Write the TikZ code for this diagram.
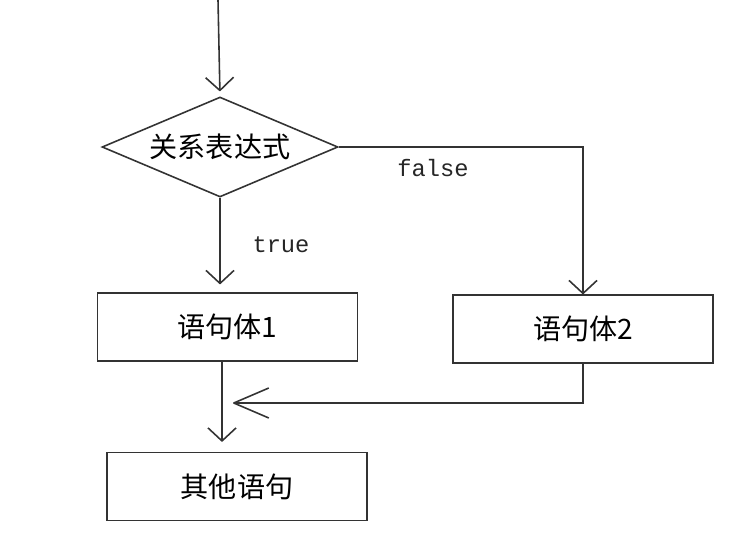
\documentclass[tikz,border=0pt]{standalone}
\usepackage{fontspec}
\newfontfamily\cjk{Noto Sans CJK SC}
\setmonofont{Liberation Mono}
\usetikzlibrary{shapes.geometric,arrows.meta}

\tikzset{
	box/.style={draw=black!80, line width=.9pt, minimum width=5.2cm, minimum height=1.36cm,
		inner sep=0pt, font=\cjk\fontsize{16pt}{18pt}\selectfont},
	cond/.style={diamond, draw=black!80, line width=.9pt, aspect=2.36, minimum width=4.72cm,
		minimum height=2cm, inner sep=0pt, font=\cjk\fontsize{16pt}{18pt}\selectfont},
	flow/.style={draw=black!80, line width=.9pt,
		-{Straight Barb[length=.26cm, width=.56cm, line join=round]}},
	lab/.style={font=\ttfamily\fontsize{13.5pt}{15pt}\selectfont, text=black!85}
}

\begin{document}
\begin{tikzpicture}[x=.02cm, y=-.02cm]
		\useasboundingbox (0,0) rectangle (750,545);

		\coordinate (start) at (218,0);
		\node[cond] (test) at (220,147) {关系表达式};
		\node[box] (body1) at (227.5,327) {语句体1};
		\node[box] (body2) at (583,329) {语句体2};
		\node[box] (rest) at (237,486.5) {其他语句};
		\coordinate (merge) at (233,403);

		% Verzweigung
		\draw[flow, shorten >=.1cm] (start) -- (test.north);
		\draw[flow, shorten >=.16cm] (test.south) -- (test.south |- body1.north);
		\draw[flow] (test.east) -| (body2.north);

		% Zusammenführung
		\draw[flow, -{Straight Barb[length=.7cm, width=.6cm, line join=round]}] (body2.south) |- (merge);
		\draw[flow, shorten >=.2cm] ([xshift=-.11cm]body1.south) -- ([xshift=-.11cm]body1.south |- rest.north);

		\node[lab] (truelab) at (281,245) {true};
		\node[lab] (falselab) at (433,168) {false};
\end{tikzpicture}
\end{document}
